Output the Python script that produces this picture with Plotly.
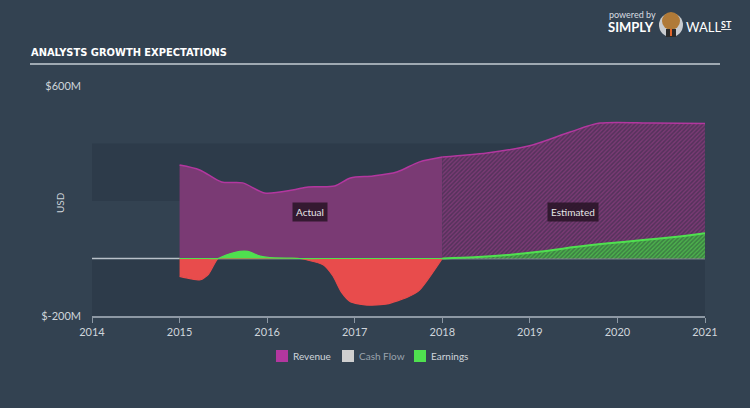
import plotly.graph_objects as go
import numpy as np

# ---------------- data ----------------
years = [2014, 2015, 2016, 2017, 2018, 2019, 2020, 2021]
year_labels = [str(y) for y in years]
y_tick_vals = [-200, 600]
y_tick_text = ["$-200M", "$600M"]

rev_act_x = [2015.0, 2015.23, 2015.48, 2015.72, 2015.97, 2016.29, 2016.47, 2016.77, 2016.95, 2017.21, 2017.48, 2017.74, 2018.0]
rev_act_y = [325, 308, 266, 263, 228, 238, 249, 252, 280, 287, 301, 336, 353]
rev_est_x = [2018.0, 2018.51, 2019.03, 2019.46, 2019.80, 2020.40, 2021.0]
rev_est_y = [353, 367, 395, 440, 471, 471, 470]

earn_act_x = [2015.0, 2015.12, 2015.24, 2015.33, 2015.44, 2015.54, 2015.69, 2015.78, 2015.92, 2016.03,
              2016.29, 2016.37, 2016.64, 2016.75, 2016.85, 2016.95, 2017.14, 2017.37, 2017.60, 2017.74, 2018.0]
earn_act_y = [-62, -70, -74, -55, 0, 13, 25, 25, 8, 3,
              1, 0, -22, -60, -118, -150, -162, -158, -135, -110, 0]
earn_est_x = [2018.0, 2018.36, 2018.74, 2019.13, 2019.51, 2019.90, 2020.29, 2020.68, 2021.0]
earn_est_y = [0, 4, 12, 24, 40, 53, 64, 76, 88]

bands = [(200, 400), (-200, 0)]

# ---------------- style ----------------
BG = "#334251"
BAND = "#2d3b4a"
REV_LINE = "#b3379f"
REV_FILL = "#7a3a74"
GREEN = "#4fe04f"
RED = "#e84c4c"
TXT = "#cfd5db"
FONT = "Lato, Open Sans, sans-serif"

fig = go.Figure()

# Revenue actual
fig.add_trace(go.Scatter(x=rev_act_x, y=rev_act_y, mode="lines",
                         line=dict(color=REV_LINE, width=1.5, shape="spline", smoothing=0.8),
                         fill="tozeroy", fillcolor=REV_FILL, hoverinfo="skip", showlegend=False))
# Revenue estimated (hatched)
fig.add_trace(go.Scatter(x=rev_est_x, y=rev_est_y, mode="lines",
                         line=dict(color=REV_LINE, width=1.5, shape="spline", smoothing=0.8),
                         fill="tozeroy",
                         fillpattern=dict(shape="/", bgcolor=REV_FILL, fgcolor="#2e2a42", size=3, solidity=0.5),
                         hoverinfo="skip", showlegend=False))

ea = np.array(earn_act_y, dtype=float)
# Earnings actual negative part
fig.add_trace(go.Scatter(x=earn_act_x, y=np.minimum(ea, 0), mode="lines",
                         line=dict(color=RED, width=1.2, shape="spline", smoothing=0.6),
                         fill="tozeroy", fillcolor=RED, hoverinfo="skip", showlegend=False))
# Earnings actual positive part
fig.add_trace(go.Scatter(x=earn_act_x, y=np.maximum(ea, 0), mode="lines",
                         line=dict(color=GREEN, width=1.2, shape="spline", smoothing=0.6),
                         fill="tozeroy", fillcolor=GREEN, hoverinfo="skip", showlegend=False))
# Earnings estimated (hatched)
fig.add_trace(go.Scatter(x=earn_est_x, y=earn_est_y, mode="lines",
                         line=dict(color=GREEN, width=2, shape="spline", smoothing=0.8),
                         fill="tozeroy",
                         fillpattern=dict(shape="/", bgcolor="#4cb04c", fgcolor="#2b4a3a", size=3, solidity=0.5),
                         hoverinfo="skip", showlegend=False))

shapes = []
for lo, hi in bands:
    shapes.append(dict(type="rect", xref="x", yref="y", x0=years[0], x1=years[-1], y0=lo, y1=hi,
                       fillcolor=BAND, line=dict(width=0), layer="below"))
shapes.append(dict(type="line", xref="x", yref="y", x0=years[0], x1=years[-1], y0=0, y1=0,
                   line=dict(color="#b9c1c9", width=1.5), layer="below"))


def px_x(px):
    return (px - 92) / 613.0


def px_y(py):
    return (316 - py) / 230.0


# title underline
shapes.append(dict(type="line", xref="paper", yref="paper",
                   x0=px_x(30), x1=px_x(720), y0=px_y(64), y1=px_y(64),
                   line=dict(color="#c5ccd3", width=1.5)))

# legend squares
legend_items = [("Revenue", "#b3379f", 276, TXT), ("Cash Flow", "#cfcfcf", 342, "#9aa3ad"), ("Earnings", GREEN, 414, TXT)]
annotations = []
for name, col, x0, tc in legend_items:
    shapes.append(dict(type="rect", xref="paper", yref="paper",
                       x0=px_x(x0), x1=px_x(x0 + 12), y0=px_y(362), y1=px_y(350),
                       fillcolor=col, line=dict(width=0)))
    annotations.append(dict(text=name, xref="paper", yref="paper", x=px_x(x0 + 15), y=px_y(356),
                            xanchor="left", yanchor="middle", showarrow=False,
                            font=dict(family=FONT, size=10, color=tc)))

# title
annotations.append(dict(text="<b>ANALYSTS GROWTH EXPECTATIONS</b>", xref="paper", yref="paper",
                        x=px_x(29), y=px_y(53), xanchor="left", yanchor="middle", showarrow=False,
                        font=dict(family="DejaVu Sans Condensed, Liberation Sans Narrow, sans-serif",
                                  size=11, color="#ffffff")))
# USD axis label
annotations.append(dict(text="USD", xref="paper", yref="paper", x=px_x(60), y=px_y(203),
                        xanchor="center", yanchor="middle", textangle=-90, showarrow=False,
                        font=dict(family=FONT, size=10, color=TXT)))
# Actual / Estimated labels
annotations.append(dict(text="Actual", xref="paper", yref="paper", x=px_x(310), y=px_y(212),
                        xanchor="center", yanchor="middle", showarrow=False,
                        bgcolor="rgba(40,20,38,0.85)", borderpad=3,
                        font=dict(family=FONT, size=10, color="#e6e6e6")))
annotations.append(dict(text="Estimated", xref="paper", yref="paper", x=px_x(573), y=px_y(212),
                        xanchor="center", yanchor="middle", showarrow=False,
                        bgcolor="rgba(40,20,38,0.85)", borderpad=3,
                        font=dict(family=FONT, size=10, color="#e6e6e6")))
# logo
annotations.append(dict(text="powered by", xref="paper", yref="paper", x=px_x(607), y=px_y(14),
                        xanchor="left", yanchor="middle", showarrow=False,
                        font=dict(family=FONT, size=9, color="#d8dde2")))
annotations.append(dict(text="<b>SIMPLY</b>", xref="paper", yref="paper", x=px_x(606), y=px_y(27),
                        xanchor="left", yanchor="middle", showarrow=False,
                        font=dict(family=FONT, size=13, color="#ffffff")))
annotations.append(dict(text="WALL", xref="paper", yref="paper", x=px_x(684), y=px_y(27),
                        xanchor="left", yanchor="middle", showarrow=False,
                        font=dict(family=FONT, size=13, color="#ffffff")))
annotations.append(dict(text="<b><u>ST</u></b>", xref="paper", yref="paper", x=px_x(719), y=px_y(25),
                        xanchor="left", yanchor="middle", showarrow=False,
                        font=dict(family=FONT, size=9, color="#ffffff")))
# bull icon (approximate)
shapes.append(dict(type="circle", xref="paper", yref="paper",
                   x0=px_x(659), x1=px_x(683), y0=px_y(37), y1=px_y(13),
                   fillcolor="#c9ccd0", line=dict(width=0)))
shapes.append(dict(type="circle", xref="paper", yref="paper",
                   x0=px_x(662), x1=px_x(680), y0=px_y(30), y1=px_y(12),
                   fillcolor="#b07a38", line=dict(width=0)))
shapes.append(dict(type="rect", xref="paper", yref="paper",
                   x0=px_x(666), x1=px_x(676), y0=px_y(37), y1=px_y(29),
                   fillcolor="#2a2a2a", line=dict(width=0)))
shapes.append(dict(type="rect", xref="paper", yref="paper",
                   x0=px_x(670), x1=px_x(672), y0=px_y(36), y1=px_y(29),
                   fillcolor="#e0642a", line=dict(width=0)))

fig.update_layout(
    width=750, height=408,
    margin=dict(l=92, r=45, t=86, b=92),
    paper_bgcolor=BG, plot_bgcolor=BG,
    showlegend=False,
    shapes=shapes, annotations=annotations,
    xaxis=dict(range=[years[0], years[-1]], tickvals=years, ticktext=year_labels,
               showgrid=False, zeroline=False, showline=True, linecolor="#8d98a4", linewidth=1.5,
               ticks="outside", tickcolor="#8d98a4", ticklen=5, tickwidth=1,
               tickfont=dict(family=FONT, size=11, color=TXT), fixedrange=True),
    yaxis=dict(range=[-200, 600], tickvals=y_tick_vals, ticktext=y_tick_text,
               showgrid=False, zeroline=False, showline=False, ticks="",
               ticklabelstandoff=10,
               tickfont=dict(family=FONT, size=11, color=TXT), fixedrange=True),
)

fig.write_html("out.html")
